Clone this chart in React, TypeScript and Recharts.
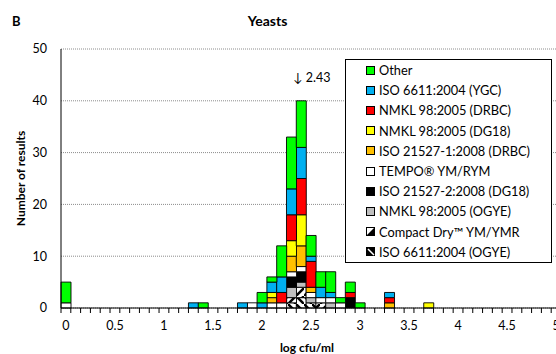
import React from 'react';
import { BarChart, Bar, XAxis, YAxis, CartesianGrid, Legend, ReferenceDot, Label } from 'recharts';

const categories = [
  '0.0', '0.1', '0.2', '0.3', '0.4', '0.5', '0.6', '0.7', '0.8', '0.9',
  '1.0', '1.1', '1.2', '1.3', '1.4', '1.5', '1.6', '1.7', '1.8', '1.9',
  '2.0', '2.1', '2.2', '2.3', '2.4', '2.5', '2.6', '2.7', '2.8', '2.9',
  '3.0', '3.1', '3.2', '3.3', '3.4', '3.5', '3.6', '3.7', '3.8', '3.9',
  '4.0', '4.1', '4.2', '4.3', '4.4', '4.5', '4.6', '4.7', '4.8', '4.9',
  '5.0',
];
const xTickLabels = ['0', '0.5', '1', '1.5', '2', '2.5', '3', '3.5', '4', '4.5', '5'];
const yTicks = [0, 10, 20, 30, 40, 50];

// Stacked series, listed bottom to top of each bar
const isoOgye = [
  0, 0, 0, 0, 0, 0, 0, 0, 0, 0,
  0, 0, 0, 0, 0, 0, 0, 0, 0, 0,
  0, 0, 0, 1, 2, 1, 0, 0, 0, 0,
  0, 0, 0, 0, 0, 0, 0, 0, 0, 0,
  0, 0, 0, 0, 0, 0, 0, 0, 0, 0,
  0,
];
const compactDry = [
  0, 0, 0, 0, 0, 0, 0, 0, 0, 0,
  0, 0, 0, 0, 0, 0, 0, 0, 0, 0,
  0, 0, 0, 1, 2, 0, 1, 0, 0, 0,
  0, 0, 0, 0, 0, 0, 0, 0, 0, 0,
  0, 0, 0, 0, 0, 0, 0, 0, 0, 0,
  0,
];
const nmklOgye = [
  0, 0, 0, 0, 0, 0, 0, 0, 0, 0,
  0, 0, 0, 0, 0, 0, 0, 0, 0, 0,
  0, 0, 0, 2, 1, 1, 0, 1, 0, 0,
  0, 0, 0, 0, 0, 0, 0, 0, 0, 0,
  0, 0, 0, 0, 0, 0, 0, 0, 0, 0,
  0,
];
const iso21527dg18 = [
  0, 0, 0, 0, 0, 0, 0, 0, 0, 0,
  0, 0, 0, 0, 0, 0, 0, 0, 0, 0,
  0, 0, 0, 2, 2, 0, 0, 0, 0, 2,
  0, 0, 0, 0, 0, 0, 0, 0, 0, 0,
  0, 0, 0, 0, 0, 0, 0, 0, 0, 0,
  0,
];
const tempo = [
  1, 0, 0, 0, 0, 0, 0, 0, 0, 0,
  0, 0, 0, 0, 0, 0, 0, 0, 0, 1,
  0, 1, 1, 1, 1, 1, 1, 1, 1, 0,
  0, 0, 0, 0, 0, 0, 0, 0, 0, 0,
  0, 0, 0, 0, 0, 0, 0, 0, 0, 0,
  0,
];
const iso21527drbc = [
  0, 0, 0, 0, 0, 0, 0, 0, 0, 0,
  0, 0, 0, 0, 0, 0, 0, 0, 0, 0,
  0, 1, 0, 3, 4, 1, 0, 0, 0, 0,
  0, 0, 0, 1, 0, 0, 0, 0, 0, 0,
  0, 0, 0, 0, 0, 0, 0, 0, 0, 0,
  0,
];
const nmklDg18 = [
  0, 0, 0, 0, 0, 0, 0, 0, 0, 0,
  0, 0, 0, 0, 0, 0, 0, 0, 0, 0,
  0, 1, 0, 3, 6, 0, 0, 0, 0, 0,
  0, 0, 0, 0, 0, 0, 0, 1, 0, 0,
  0, 0, 0, 0, 0, 0, 0, 0, 0, 0,
  0,
];
const nmklDrbc = [
  0, 0, 0, 0, 0, 0, 0, 0, 0, 0,
  0, 0, 0, 0, 0, 0, 0, 0, 0, 0,
  0, 0, 2, 5, 7, 5, 0, 0, 0, 1,
  0, 0, 0, 1, 0, 0, 0, 0, 0, 0,
  0, 0, 0, 0, 0, 0, 0, 0, 0, 0,
  0,
];
const isoYgc = [
  0, 0, 0, 0, 0, 0, 0, 0, 0, 0,
  0, 0, 0, 1, 0, 0, 0, 0, 1, 0,
  1, 2, 3, 5, 6, 1, 2, 1, 0, 0,
  0, 0, 0, 1, 0, 0, 0, 0, 0, 0,
  0, 0, 0, 0, 0, 0, 0, 0, 0, 0,
  0,
];
const other = [
  4, 0, 0, 0, 0, 0, 0, 0, 0, 0,
  0, 0, 0, 0, 1, 0, 0, 0, 0, 0,
  2, 1, 6, 10, 9, 4, 3, 4, 1, 2,
  1, 0, 0, 0, 0, 0, 0, 0, 0, 0,
  0, 0, 0, 0, 0, 0, 0, 0, 0, 0,
  0,
];

const seriesNames = {
  other: 'Other',
  isoYgc: 'ISO 6611:2004 (YGC)',
  nmklDrbc: 'NMKL 98:2005 (DRBC)',
  nmklDg18: 'NMKL 98:2005 (DG18)',
  iso21527drbc: 'ISO 21527-1:2008 (DRBC)',
  tempo: 'TEMPO\u00AE YM/RYM',
  iso21527dg18: 'ISO 21527-2:2008 (DG18)',
  nmklOgye: 'NMKL 98:2005 (OGYE)',
  compactDry: 'Compact Dry\u2122 YM/YMR',
  isoOgye: 'ISO 6611:2004 (OGYE)',
};

const annotationText = '\u2193 2.43';
const annotationCat = '2.4';
const annotationY = 44;

const FONT = 'Lato, "Open Sans", Arial, sans-serif';
const CHART_W = 566;
const CHART_H = 354;
const MARGIN = { top: 49, right: 5, left: 0, bottom: 0 };
const Y_AXIS_W = 61;
const X_AXIS_H = 46;
const PLOT_W = CHART_W - MARGIN.left - MARGIN.right - Y_AXIS_W;
const HALF_BAND = PLOT_W / categories.length / 2;

const fills: Record<string, string> = {
  isoOgye: 'url(#patIsoOgye)',
  compactDry: 'url(#patCompact)',
  nmklOgye: '#BFBFBF',
  iso21527dg18: '#000000',
  tempo: '#FFFFFF',
  iso21527drbc: '#FFC000',
  nmklDg18: '#FFFF00',
  nmklDrbc: '#FF0000',
  isoYgc: '#00B0F0',
  other: '#00FF00',
};

const stackOrder = [
  'isoOgye', 'compactDry', 'nmklOgye', 'iso21527dg18', 'tempo',
  'iso21527drbc', 'nmklDg18', 'nmklDrbc', 'isoYgc', 'other',
];
const legendOrder = [...stackOrder].reverse();

const seriesValues: Record<string, number[]> = {
  isoOgye, compactDry, nmklOgye, iso21527dg18, tempo,
  iso21527drbc, nmklDg18, nmklDrbc, isoYgc, other,
};

const data = categories.map((cat, i) => {
  const row: Record<string, any> = { cat };
  stackOrder.forEach((k) => { row[k] = seriesValues[k][i]; });
  return row;
});

function XTick(props: any) {
  const { x, y, payload } = props;
  const i = categories.indexOf(payload.value);
  const lbl = i % 5 === 0 ? xTickLabels[i / 5] : null;
  return (
    <g>
      <line x1={x - HALF_BAND} x2={x - HALF_BAND} y1={y} y2={y + 5} stroke="#000" strokeWidth={1} />
      {i === categories.length - 1 && (
        <line x1={x + HALF_BAND} x2={x + HALF_BAND} y1={y} y2={y + 5} stroke="#000" strokeWidth={1} />
      )}
      {lbl !== null && (
        <text x={x} y={y + 22} textAnchor="middle" fontSize={12.5} fontFamily={FONT} fill="#000">{lbl}</text>
      )}
    </g>
  );
}

function LegendIcon({ k }: { k: string }) {
  if (k === 'compactDry') {
    return (
      <svg width={9} height={9} style={{ display: 'block' }}>
        <rect x={0.5} y={0.5} width={8} height={8} fill="#fff" stroke="#000" />
        <polygon points="8.5,0.5 8.5,8.5 0.5,8.5" fill="#000" />
      </svg>
    );
  }
  if (k === 'isoOgye') {
    return (
      <svg width={9} height={9} style={{ display: 'block' }}>
        <rect x={0.5} y={0.5} width={8} height={8} fill="#000" stroke="#000" />
        <line x1={2} y1={2} x2={8} y2={8} stroke="#fff" strokeWidth={1.5} />
      </svg>
    );
  }
  return (
    <svg width={9} height={9} style={{ display: 'block' }}>
      <rect x={0.5} y={0.5} width={8} height={8} fill={fills[k]} stroke="#000" />
    </svg>
  );
}

function renderLegend() {
  return (
    <div
      style={{
        border: '1px solid #000',
        background: '#fff',
        boxSizing: 'border-box',
        width: 207,
        height: 204,
        fontFamily: FONT,
        fontSize: 12.8,
        color: '#000',
      }}
    >
      {legendOrder.map((k) => (
        <div key={k} style={{ display: 'flex', alignItems: 'center', height: 20.2, paddingLeft: 20 }}>
          <LegendIcon k={k} />
          <span style={{ marginLeft: 4, whiteSpace: 'nowrap' }}>{(seriesNames as any)[k]}</span>
        </div>
      ))}
    </div>
  );
}

function YLabel(props: any) {
  const vb = props.viewBox || {};
  const cx = 20;
  const cy = vb.y + vb.height / 2;
  return (
    <text
      x={cx}
      y={cy}
      transform={`rotate(-90 ${cx} ${cy})`}
      textAnchor="middle"
      dominantBaseline="central"
      fontFamily={FONT}
      fontWeight="bold"
      fontSize={12}
      fill="#000"
    >
      Number of results
    </text>
  );
}

function AnnotationShape(props: any) {
  const { cx, cy } = props;
  return (
    <text x={cx - 8} y={cy + 2} fontFamily={FONT} fontSize={12.5} fill="#000">{annotationText}</text>
  );
}

export default function App() {
  return (
    <div style={{ position: 'fixed', left: 0, top: 0, width: 556, height: 354, overflow: 'hidden', background: '#fff' }}>
      <div style={{ position: 'absolute', left: 12, top: 13, fontFamily: FONT, fontWeight: 'bold', fontSize: 13 }}>B</div>
      <div style={{ position: 'absolute', left: 0, width: 535, top: 12, textAlign: 'center', fontFamily: FONT, fontWeight: 'bold', fontSize: 14 }}>Yeasts</div>
      <BarChart
        width={CHART_W}
        height={CHART_H}
        data={data}
        margin={MARGIN}
        barCategoryGap={0}
        barGap={0}
      >
        <defs>
          <pattern id="patCompact" patternUnits="userSpaceOnUse" width={8} height={8}>
            <rect width={8} height={8} fill="#fff" />
            <path d="M-2,10 L10,-2" stroke="#000" strokeWidth={2.5} />
          </pattern>
          <pattern id="patIsoOgye" patternUnits="userSpaceOnUse" width={8} height={8}>
            <rect width={8} height={8} fill="#fff" />
            <path d="M-2,-2 L10,10" stroke="#000" strokeWidth={2.5} />
          </pattern>
        </defs>
        <CartesianGrid vertical={false} stroke="#8c8c8c" strokeDasharray="1 1" />
        <XAxis
          dataKey="cat"
          interval={0}
          height={X_AXIS_H}
          tickLine={false}
          tickSize={0}
          tickMargin={0}
          tick={<XTick />}
          axisLine={{ stroke: '#000', strokeWidth: 1 }}
        >
          <Label
            value="log cfu/ml"
            position="insideBottom"
            offset={2}
            dx={-4}
            style={{ fontFamily: FONT, fontWeight: 'bold', fontSize: 12, fill: '#000' }}
          />
        </XAxis>
        <YAxis
          width={Y_AXIS_W}
          domain={[0, 50]}
          ticks={yTicks}
          interval={0}
          tickLine={false}
          tickSize={0}
          tickMargin={14}
          axisLine={{ stroke: '#000', strokeWidth: 1 }}
          tick={{ fill: '#000', fontSize: 12.5, fontFamily: FONT }}
        >
          <Label content={<YLabel />} />
        </YAxis>
        {stackOrder.map((k) => (
          <Bar
            key={k}
            dataKey={k}
            name={(seriesNames as any)[k]}
            stackId="a"
            fill={fills[k]}
            stroke="#000"
            strokeWidth={0.9}
            isAnimationActive={false}
          />
        ))}
        <ReferenceDot x={annotationCat} y={annotationY} r={0} shape={<AnnotationShape />} />
        <Legend
          layout="vertical"
          align="center"
          verticalAlign="middle"
          content={renderLegend}
          wrapperStyle={{ position: 'absolute', left: 345, top: 59, width: 207, height: 204 }}
        />
      </BarChart>
    </div>
  );
}
